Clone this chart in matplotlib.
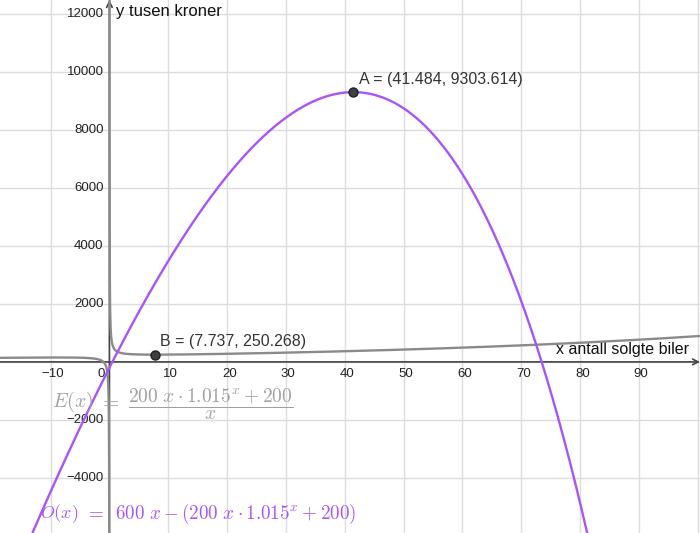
import numpy as np
import matplotlib
matplotlib.use("Agg")
import matplotlib.pyplot as plt

# Model constants (as written in the chart formulas)
unit_cost = [200.0]     # 200 x
growth = [1.015]        # 1.015^x
fixed_cost = [200.0]    # + 200
price = [600.0]         # 600 x

# Marked points
point_names = ["A", "B"]
point_x = [41.484, 7.737]
point_y = [9303.614, 250.268]

x_ticks = [-10, 0, 10, 20, 30, 40, 50, 60, 70, 80, 90]
y_ticks = [-4000, -2000, 2000, 4000, 6000, 8000, 10000, 12000]

plt.rcParams['font.family'] = ['Liberation Sans', 'DejaVu Sans']
plt.rcParams['mathtext.fontset'] = 'cm'

fig = plt.figure(figsize=(7.0, 5.33), dpi=100)
ax = fig.add_axes([0, 0, 1, 1])
xmin, xmax = -18.6, 100.4
ymin, ymax = -5900, 12480
ax.set_xlim(xmin, xmax)
ax.set_ylim(ymin, ymax)
for s in ax.spines.values():
    s.set_visible(False)
ax.set_xticks([])
ax.set_yticks([])

# grid
for gx in range(-10, 101, 10):
    ax.axvline(gx, color='#dcdcdc', lw=1.0, zorder=0)
for gy in range(-4000, 12001, 2000):
    ax.axhline(gy, color='#dcdcdc', lw=1.0, zorder=0)

# axes with arrows
axis_col = '#444444'
ax.annotate('', xy=(xmax, 0), xytext=(xmin, 0),
            arrowprops=dict(arrowstyle='->', color=axis_col, lw=1.2, shrinkA=0, shrinkB=0), zorder=2)
ax.annotate('', xy=(0, ymax), xytext=(0, ymin),
            arrowprops=dict(arrowstyle='->', color=axis_col, lw=1.2, shrinkA=0, shrinkB=0), zorder=2)

# tick labels
for t in x_ticks:
    lab = '\u221210' if t < 0 else str(t)
    if t == 0:
        ax.text(-0.8, -200, '0', ha='right', va='top', fontsize=9.5, color='#222222')
    else:
        ax.text(t + 0.4, -200, lab, ha='center', va='top', fontsize=9.5, color='#222222')
for t in y_ticks:
    lab = str(t).replace('-', '\u2212')
    ax.text(-1.0, t, lab, ha='right', va='center', fontsize=9.5, color='#222222')

ax.text(1.2, 12480 - 150, 'y tusen kroner', ha='left', va='top', fontsize=12, color='#111111')
ax.text(98.5, 170, 'x antall solgte biler', ha='right', va='bottom', fontsize=11.5, color='#111111')

a, g, f, p = unit_cost[0], growth[0], fixed_cost[0], price[0]

# E(x)
xs_neg = np.linspace(xmin, -0.001, 2000)
xs_pos = np.linspace(0.001, xmax, 4000)
for xs in (xs_neg, xs_pos):
    E = (a * xs * g ** xs + f) / xs
    ax.plot(xs, E, color='#8a8a8a', lw=1.7, zorder=3)

# O(x)
xs = np.linspace(xmin, xmax, 2000)
O = p * xs - (a * xs * g ** xs + f)
ax.plot(xs, O, color='#a855f7', lw=1.7, zorder=3)

# points
for n, px, py in zip(point_names, point_x, point_y):
    ax.plot(px, py, 'o', ms=6.5, color='#404040', mec='#222222', zorder=5)
    ax.text(px + 0.9, py + 180, f'{n} = ({px}, {py})', ha='left', va='bottom',
            fontsize=11.5, color='#333333', zorder=6)

# formula texts
e_col = '#a0a0a0'
ax.text(-9.8, -1380, r'$E(x)$', ha='left', va='center', fontsize=14.2, color=e_col, zorder=4)
ax.text(0.03, -1380, r'$=$', ha='center', va='center', fontsize=15, color=e_col, zorder=4)
ax.text(3.1, -1483, r'$\dfrac{200\ x \cdot 1.015^x + 200}{x}$', ha='left', va='center',
        fontsize=14, color=e_col, zorder=4)
o_col = '#a855f7'
ax.text(-11.8, -5230, r'$O(x)$', ha='left', va='center', fontsize=13, color=o_col, zorder=4)
ax.text(-2.45, -5230, r'$=$', ha='center', va='center', fontsize=13.7, color=o_col, zorder=4)
ax.text(0.9, -5230, r'$600\ x - (200\ x \cdot 1.015^x + 200)$', ha='left', va='center',
        fontsize=13.7, color=o_col, zorder=4)

fig.savefig('out.png', dpi=100)
